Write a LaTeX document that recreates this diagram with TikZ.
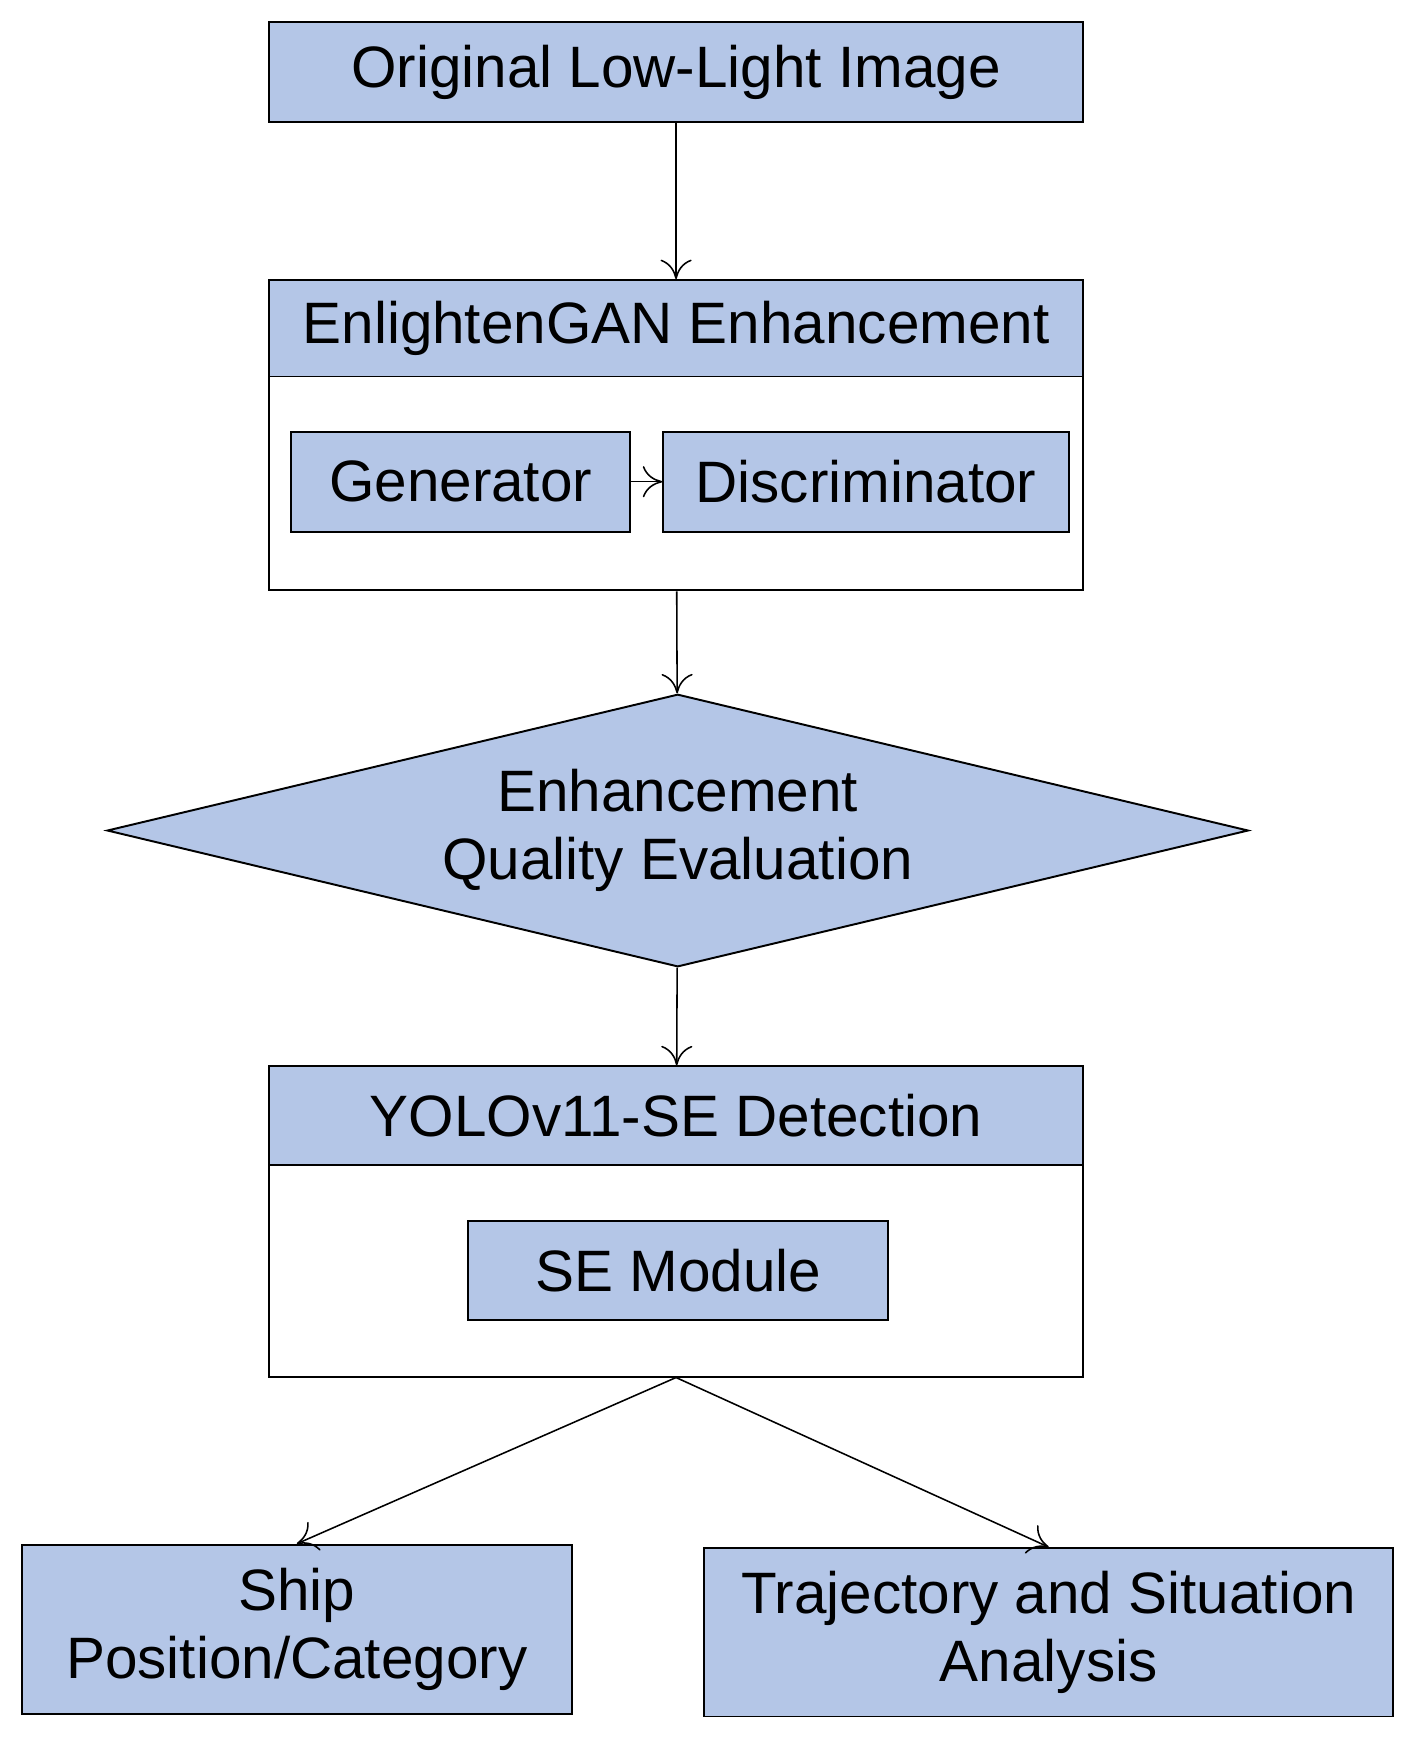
\documentclass[tikz,border=0pt]{standalone}
\usepackage{fontspec}
\setmainfont{Liberation Sans}
\usetikzlibrary{shapes.geometric,arrows.meta}
\definecolor{boxblue}{HTML}{B4C6E7}
\tikzset{
  blk/.style={draw, fill=boxblue, inner sep=0pt, font=\fontsize{15}{17.6}\selectfont, align=center},
  frame/.style={draw, fill=white, inner sep=0pt},
  arr/.style={-{To[length=5pt,width=8pt]}, thin}
}
\begin{document}
\begin{tikzpicture}[x=0.01cm,y=-0.01cm,line width=0.5pt]
        \useasboundingbox (0,0) rectangle (1280,1574);

        \node[blk, minimum width=7.35cm, minimum height=0.9cm] (orig) at (610.5,65) {Original Low-Light Image};

        \node[frame, minimum width=7.35cm, minimum height=2.8cm] (gan) at (610.5,393) {};
        \node[blk, minimum width=7.35cm, minimum height=0.87cm] (ganhead) at (610.5,296.5) {EnlightenGAN Enhancement};
        \node[blk, minimum width=3.06cm, minimum height=0.9cm] (gen) at (416,435) {Generator};
        \node[blk, minimum width=3.66cm, minimum height=0.9cm] (disc) at (782,435) {Discriminator};

        \node[blk, diamond, aspect=4.19, minimum width=10.3cm, minimum height=2.46cm] (eval) at (612,750) {Enhancement\\Quality Evaluation};

        \node[frame, minimum width=7.35cm, minimum height=2.8cm] (yolo) at (610.5,1103) {};
        \node[blk, minimum width=7.35cm, minimum height=0.89cm] (yolohead) at (610.5,1007.5) {YOLOv11-SE Detection};
        \node[blk, minimum width=3.79cm, minimum height=0.89cm] (se) at (612.5,1147.5) {SE Module};

        \node[blk, minimum width=4.96cm, minimum height=1.53cm] (ship) at (268,1471.5) {Ship\\Position/Category};
        \node[blk, minimum width=6.22cm, minimum height=1.52cm] (traj) at (947,1474) {Trajectory and Situation\\Analysis};

        \draw[arr] (orig) -- (gan);
        \draw[arr] (gen) -- (disc);
        \draw[arr] (gan) -- (eval);
        \draw[arr] (eval) -- (yolo);
        \draw[arr] (yolo.south) -- (ship.north);
        \draw[arr] (yolo.south) -- (traj.north);
    \end{tikzpicture}
\end{document}
